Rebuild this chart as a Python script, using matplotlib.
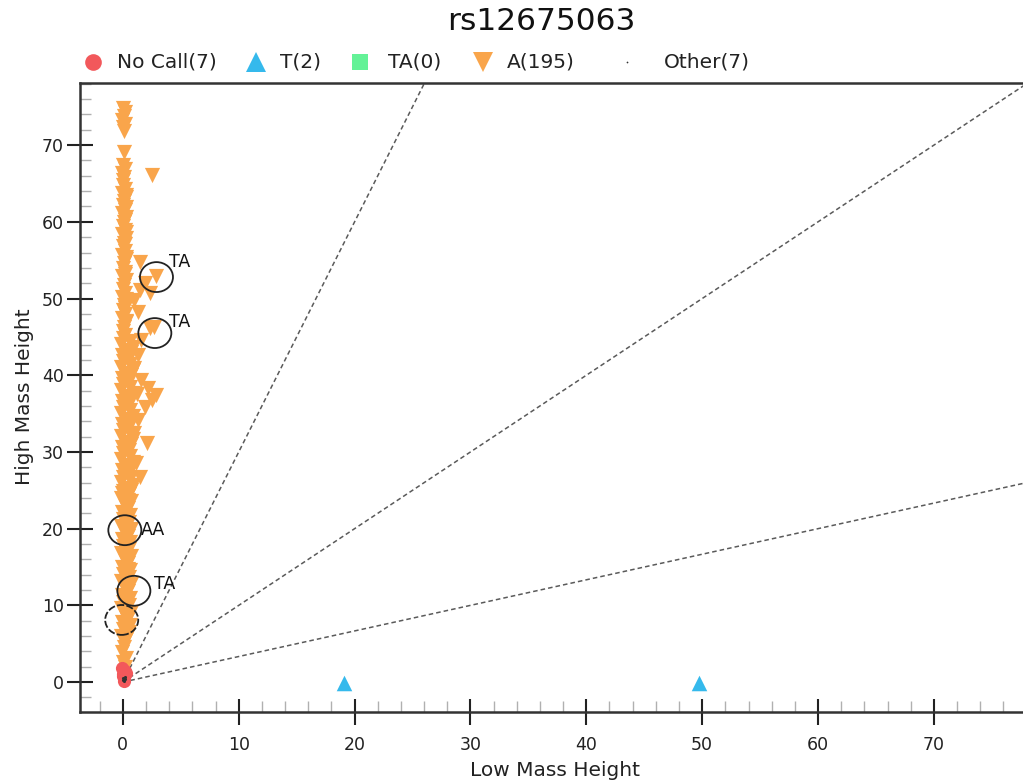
import matplotlib
matplotlib.use("Agg")
import matplotlib.pyplot as plt
from matplotlib.patches import Ellipse
from matplotlib.ticker import MultipleLocator

plt.rcParams['font.family'] = ['DejaVu Sans']

title = "rs12675063"
x_label = "Low Mass Height"
y_label = "High Mass Height"
legend_labels = ["No Call(7)", "T(2)", "TA(0)", "A(195)", "Other(7)"]

# A genotype (orange, down triangles)
a_x = [0.0, 0.2, 0.1, -0.1, 0.2, 0.0, 0.1, 0.1, 0.0, 0.2, -0.1, 0.1, 0.0,
       2.5, 1.5, 2.9, 1.5, 2.3, 1.0, 1.9, 1.3, 2.3, 1.6, 1.3, 1.0, 2.7,
       1.6, 2.5, 1.9, 1.3, 2.1, 2.9, 1.2, 2.2, 1.5, 1.1, 1.0,
       0.0, 0.2, -0.1, 0.3, 0.1, 0.0, 0.2, -0.1, 0.3, 0.1, 0.0, 0.2, -0.1,
       0.3, 0.1, 0.0, 0.2, -0.1, 0.3, 0.1, 0.0, 0.2, -0.1, 0.3, 0.1, 0.0,
       0.2, -0.1, 0.3, 0.1, 0.0, 0.2, -0.1, 0.3, 0.1, 0.0, 0.2,
       0.0, 0.6, -0.2, 0.9, 0.3, 0.7, -0.1, 0.5, 0.0, 0.6, -0.2, 0.9, 0.3,
       0.7, -0.1, 0.5, 0.0, 0.6, -0.2, 0.9, 0.3, 0.7, -0.1, 0.5, 0.0, 0.6,
       -0.2, 0.9, 0.3, 0.7, -0.1, 0.5, 0.0, 0.6, -0.2, 0.9, 0.3, 0.7, -0.1,
       0.5, 0.0, 0.6, -0.2, 0.9, 0.3, 0.7, -0.1, 0.5, 0.0, 0.6, -0.2, 0.9,
       0.3, 0.7, -0.1,
       0.0, 0.5, -0.2, 0.7, 0.2, 0.4, -0.1, 0.6, 0.0, 0.5, -0.2, 0.7, 0.2,
       0.4, -0.1, 0.6, 0.0, 0.5, -0.2, 0.7, 0.2, 0.4, -0.1, 0.6, 0.0, 0.5,
       -0.2, 0.7, 0.2, 0.4, -0.1, 0.6, 0.0, 0.5, -0.2, 0.7, 0.2, 0.4, -0.1,
       0.6, 0.0, 0.5, -0.2, 0.3,
       0.1, -0.1, 0.3, 0.0, 0.2,
       0.3, 0.3, 0.2, 0.3, 0.2, 0.3, 0.2, 0.3, 0.2, 0.3,
       0.4, 0.3, 0.4, 0.3, 0.4, 0.3, 0.4, 0.3, 0.4]
a_y = [74.8, 74.3, 73.8, 73.3, 72.8, 72.3, 71.8, 69.1, 67.4, 66.9, 66.4, 65.9, 65.5,
       66.1, 54.8, 53.0, 51.1, 50.7, 49.8, 52.0, 48.2, 46.1, 44.6, 42.6, 40.9, 46.3,
       39.4, 36.8, 35.9, 34.2, 31.2, 37.4, 37.5, 38.3, 26.7, 28.5, 32.5,
       64.8, 64.3, 63.8, 63.2, 62.7, 62.2, 61.6, 61.1, 60.6, 60.0, 59.5, 59.0, 58.4,
       57.9, 57.3, 56.8, 56.2, 55.7, 55.1, 54.6, 54.0, 53.5, 52.9, 52.4, 51.8, 51.3,
       50.7, 50.2, 49.6, 49.1, 48.5, 48.0, 47.4, 46.9, 46.3, 45.8, 45.2,
       44.8, 44.5, 44.1, 43.7, 43.3, 43.0, 42.6, 42.2, 41.8, 41.5, 41.1, 40.7, 40.3,
       40.0, 39.6, 39.2, 38.8, 38.5, 38.1, 37.7, 37.3, 37.0, 36.6, 36.2, 35.8, 35.5,
       35.1, 34.7, 34.3, 34.0, 33.6, 33.2, 32.8, 32.5, 32.1, 31.7, 31.3, 31.0, 30.6,
       30.2, 29.8, 29.5, 29.1, 28.7, 28.3, 28.0, 27.6, 27.2, 26.8, 26.5, 26.1, 25.7,
       25.3, 25.0, 24.6,
       24.9, 24.5, 24.0, 23.6, 23.1, 22.7, 22.2, 21.8, 21.3, 20.9, 20.4, 20.0, 19.5,
       19.1, 18.6, 18.2, 17.7, 17.3, 16.8, 16.4, 15.9, 15.5, 15.0, 14.6, 14.1, 13.7,
       13.2, 12.8, 12.3, 11.9, 11.4, 11.0, 10.5, 10.1, 9.6, 9.2, 8.7, 8.3, 7.8,
       7.4, 6.9, 6.5, 6.0, 5.6,
       4.6, 3.9, 3.2, 2.6, 2.0,
       63.5, 61.9, 60.3, 58.7, 57.1, 55.4, 53.2, 50.0, 48.8, 47.1,
       23.8, 21.0, 19.8, 17.0, 14.8, 12.6, 10.8, 8.5, 6.2]

# T genotype (blue, up triangles)
t_x = [19.1, 49.7]
t_y = [-0.1, -0.1]

# No Call (red circles)
nc_x = [0.1, 0.0, 0.2, -0.1, 0.1, 0.0, 0.3]
nc_y = [0.5, 1.0, 1.5, 1.8, 0.2, 0.8, 1.2]

# Other (small dots)
ot_x = [0.1, 0.2, 0.0, 0.1, 0.2, 0.1, 0.0]
ot_y = [0.3, 0.4, 0.5, 0.2, 0.6, 0.5, 0.3]

# cluster boundary slopes
slopes = [3.0, 1.0, 1.0 / 3.0]

# annotation circles
circ_x = [2.9, 2.76, 0.17, 0.95, -0.1]
circ_y = [52.8, 45.5, 19.8, 11.9, 8.1]
circ_text = ["TA", "TA", "AA", "TA", ""]
circ_tx = [4.0, 4.0, 1.55, 2.7, 0.0]
circ_ty = [54.8, 47.0, 19.8, 12.8, 0.0]

c_orange = "#F9A54B"
c_red = "#F2585B"
c_blue = "#35B9EC"
c_green = "#63F297"

W, H = 1023, 784
PXU = 11.586
xmin, xmax = -3.7, 78.5
ymin, ymax = -3.9, 78.1

fig = plt.figure(figsize=(W / 100, H / 100), dpi=100)
ax_w = (xmax - xmin) * PXU
ax = fig.add_axes([80 / W, 1 - 712 / H, ax_w / W, (712 - 83) / H])
ax.set_xlim(xmin, xmax)
ax.set_ylim(ymin, ymax)

for s in slopes:
    xe = xmax
    ax.plot([0, xe], [0, s * xe], color="#5a5a5a", lw=1.1, ls=(0, (3, 2)), zorder=1)

ax.scatter(a_x, a_y, marker="v", s=120, color=c_orange, linewidths=0, zorder=3)
ax.scatter(t_x, t_y, marker="^", s=125, color=c_blue, linewidths=0, zorder=3)
ax.scatter(nc_x, nc_y, marker="o", s=90, color=c_red, linewidths=0, zorder=4)
ax.scatter(ot_x, ot_y, marker=".", s=6, color="#333333", zorder=5)

for i in range(len(circ_x)):
    ls = "-" if circ_text[i] else (0, (4, 1.2))
    ax.add_patch(Ellipse((circ_x[i], circ_y[i]), 2.85, 3.9, fill=False,
                         edgecolor="#222222", lw=1.3, ls=ls, zorder=6))
    if circ_text[i]:
        ax.text(circ_tx[i], circ_ty[i], circ_text[i], fontsize=12.5,
                ha="left", va="center", color="#111111", zorder=7)

ax.xaxis.set_major_locator(MultipleLocator(10))
ax.xaxis.set_minor_locator(MultipleLocator(2))
ax.yaxis.set_major_locator(MultipleLocator(10))
ax.yaxis.set_minor_locator(MultipleLocator(2))
ax.tick_params(which="major", direction="inout", length=19, width=1.5,
               color="#222222", labelsize=12.5, labelcolor="#222222", pad=2)
ax.tick_params(which="minor", direction="in", length=8, width=1.0, color="#b0b0b0")
ax.tick_params(axis="x", which="major", pad=8)
for sp in ax.spines.values():
    sp.set_linewidth(1.8)
    sp.set_color("#333333")

ax.set_xlabel(x_label, fontsize=14.5, color="#222222", va="center")
ax.xaxis.set_label_coords((555 - 80) / ax_w, -(770 - 712) / (712 - 83))
ax.set_ylabel(y_label, fontsize=14.5, color="#222222", va="center")
ax.yaxis.set_label_coords(-(80 - 25) / ax_w, (712 - 397) / (712 - 83))

# overlay in figure pixel coordinates for title and legend row
ov = fig.add_axes([0, 0, 1, 1], zorder=10)
ov.set_xlim(0, W)
ov.set_ylim(H, 0)
ov.axis("off")
ov.patch.set_alpha(0)
ov.text(541, 21, title, fontsize=22.5, ha="center", va="center", color="#111111")

leg_marker_x = [93, 256, 360, 483, 627]
leg_text_x = [117, 280, 388, 507, 664]
leg_markers = ["o", "^", "s", "v", "."]
leg_sizes = [12, 14, 12, 14, 2.5]
leg_colors = [c_red, c_blue, c_green, c_orange, "#333333"]
for i in range(len(legend_labels)):
    ov.plot([leg_marker_x[i]], [62], ls="", marker=leg_markers[i], ms=leg_sizes[i],
            color=leg_colors[i], mew=0)
    ov.text(leg_text_x[i], 62, legend_labels[i], fontsize=14.5, ha="left",
            va="center", color="#222222")

fig.savefig("out.png", dpi=100)
